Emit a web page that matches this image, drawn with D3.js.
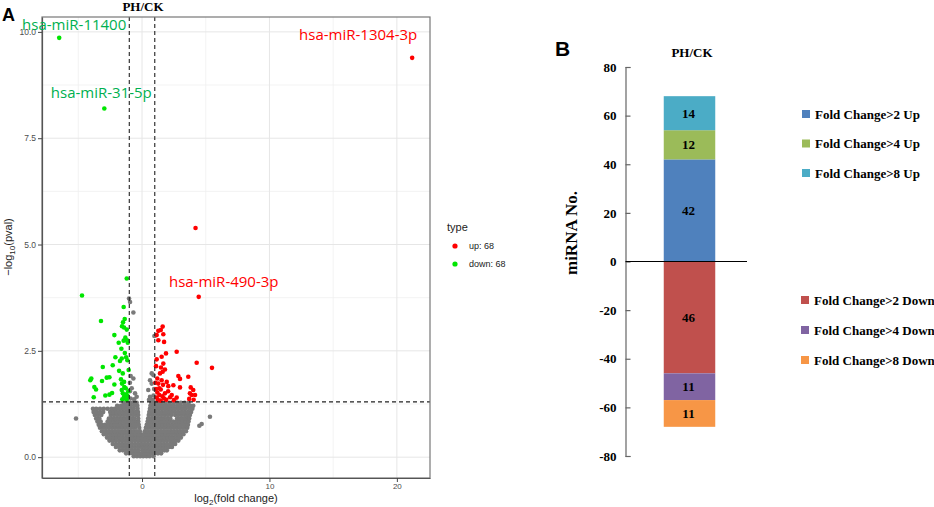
<!DOCTYPE html>
<html><head><meta charset="utf-8">
<script src="https://cdn.jsdelivr.net/npm/d3@7"></script>
<style>body{margin:0;background:#fff}svg{display:block}</style>
</head><body>
<svg id="c" width="934" height="507"></svg>
<script>
// ================= DATA =================
// Panel A: volcano plot  [log2FC, -log10 p]
const volcanoUp = [[4.20,5.39],[1.62,3.07],[1.47,2.99],[1.28,2.97],[1.15,2.87],[1.67,2.89],[1.28,2.75],[1.73,2.71],[2.72,2.48],[1.88,2.44],[1.54,2.36],[4.29,2.22],[5.49,2.10],[1.67,2.20],[1.49,2.11],[1.10,2.14],[1.80,2.06],[1.62,2.01],[1.41,1.97],[1.20,1.85],[1.54,1.81],[1.94,1.77],[1.28,1.73],[2.85,1.91],[2.98,1.84],[3.63,1.89],[2.46,1.69],[2.98,1.64],[2.06,1.67],[1.47,1.59],[1.80,1.50],[2.33,1.46],[3.82,1.64],[4.02,1.58],[3.76,1.50],[3.90,1.46],[4.16,1.46],[2.72,1.40],[2.20,1.41],[1.36,1.46],[1.73,1.38],[1.15,1.40],[1.25,1.34],[1.45,1.33],[1.60,1.43],[1.90,1.35],[2.05,1.55],[1.10,1.60],[1.20,1.52],[3.70,1.37],[4.05,1.35],[2.50,1.34],[1.35,1.62],[1.05,1.75],[1.65,1.70],[1.15,2.30]];
const volcanoDown = [[-1.20,4.20],[-4.71,3.80],[-1.44,3.53],[-3.22,3.20],[-1.36,3.25],[-1.49,3.17],[-1.57,3.08],[-1.41,3.05],[-2.17,2.87],[-1.31,2.81],[-1.18,2.75],[-1.44,2.74],[-1.83,2.69],[-1.12,2.69],[-2.09,2.35],[-1.59,2.32],[-1.25,2.35],[-1.15,2.28],[-1.73,2.26],[-3.08,2.12],[-2.30,2.16],[-1.80,2.03],[-1.51,1.97],[-1.65,1.83],[-1.41,1.77],[-3.98,1.85],[-4.06,1.81],[-3.74,1.65],[-3.61,1.59],[-3.14,1.79],[-2.77,1.87],[-2.56,1.88],[-2.17,1.71],[-2.35,1.51],[-2.88,1.45],[-2.56,1.47],[-1.57,1.73],[-1.39,1.65],[-1.59,1.58],[-1.51,1.50],[-1.25,1.48],[-1.41,1.42],[-1.15,1.44],[-1.33,1.38],[-3.79,1.41],[-1.20,1.35],[-1.55,1.36],[-1.08,1.55],[-1.28,1.62],[-1.05,2.05],[-1.35,2.45],[-1.20,3.00],[-1.62,2.55]];
// non-significant genes, read row by row: [-log10 p, [log2FC ...]]
const grayRows = [
 [0.02,[-0.65,-0.4,-0.15,0.1,0.35,0.6,0.9]],
 [0.09,[-1.25,-1.0,-0.75,-0.5,-0.25,0.0,0.25,0.5,0.75,1.0,1.25,1.5]],
 [0.16,[-1.75,-1.5,-1.25,-1.0,-0.75,-0.5,-0.25,0.05,0.3,0.55,0.8,1.05,1.3,1.55,1.75,1.95]],
 [0.24,[-2.05,-1.8,-1.55,-1.3,-1.05,-0.8,-0.55,-0.3,-0.05,0.2,0.45,0.7,0.95,1.2,1.45,1.7,1.95,2.15,2.35]],
 [0.31,[-2.3,-2.05,-1.8,-1.55,-1.3,-1.05,-0.8,-0.55,-0.3,-0.05,0.2,0.45,0.7,0.95,1.2,1.45,1.7,1.95,2.2,2.4,2.6]],
 [0.39,[-2.55,-2.3,-2.05,-1.8,-1.55,-1.3,-1.05,-0.8,-0.55,-0.3,-0.05,0.2,0.45,0.7,0.95,1.2,1.45,1.7,1.95,2.2,2.45,2.65,2.85]],
 [0.46,[-2.75,-2.5,-2.25,-2.0,-1.75,-1.5,-1.25,-1.0,-0.75,-0.5,-0.25,0.0,0.25,0.5,0.75,1.0,1.25,1.5,1.75,2.0,2.25,2.5,2.75,3.05]],
 [0.54,[-3.0,-2.75,-2.5,-2.25,-2.0,-1.75,-1.5,-1.25,-1.0,-0.75,-0.5,-0.28,-0.12,0.14,0.35,0.6,0.85,1.1,1.35,1.6,1.85,2.1,2.35,2.6,2.85,3.05,3.25]],
 [0.61,[-3.15,-2.9,-2.65,-2.4,-2.15,-1.9,-1.65,-1.4,-1.15,-0.9,-0.65,-0.4,-0.17,0.22,0.45,0.7,0.95,1.2,1.45,1.7,1.95,2.2,2.45,2.7,2.95,3.2,3.45]],
 [0.69,[-3.3,-3.05,-2.8,-2.55,-2.3,-2.05,-1.8,-1.55,-1.3,-1.05,-0.8,-0.55,-0.22,0.3,0.55,0.8,1.05,1.3,1.55,1.8,2.05,2.3,2.55,2.8,3.05,3.3,3.55]],
 [0.76,[-3.4,-3.15,-2.9,-2.65,-2.4,-2.15,-1.9,-1.65,-1.4,-1.15,-0.9,-0.65,-0.42,-0.26,0.37,0.6,0.85,1.1,1.35,1.6,1.85,2.1,2.35,2.6,2.85,3.1,3.35,3.6]],
 [0.84,[-3.5,-3.25,-2.7,-2.45,-2.2,-1.95,-1.7,-1.45,-1.2,-0.95,-0.7,-0.48,-0.29,0.44,0.68,0.93,1.18,1.43,1.68,1.93,2.18,2.43,2.68,2.93,3.18,3.43,3.65]],
 [0.91,[-3.6,-3.35,-2.6,-2.35,-2.1,-1.85,-1.6,-1.35,-1.1,-0.85,-0.6,-0.3,0.48,0.72,0.97,1.22,1.47,1.72,1.97,2.22,2.75,3.0,3.25,3.5,3.7]],
 [0.99,[-3.7,-3.45,-3.2,-2.45,-2.2,-1.95,-1.7,-1.45,-1.2,-0.95,-0.7,-0.45,-0.3,0.53,0.78,1.03,1.28,1.53,1.78,2.03,2.28,2.6,2.85,3.1,3.35,3.55,3.76]],
 [1.06,[-3.8,-3.55,-3.3,-3.05,-2.5,-2.25,-2.0,-1.75,-1.5,-1.25,-1.0,-0.75,-0.5,-0.32,0.57,0.82,1.07,1.32,1.57,1.82,2.07,2.32,2.57,2.82,3.1,3.35,3.6,3.85]],
 [1.14,[-3.85,-3.6,-3.3,-3.0,-2.7,-2.4,-2.15,-1.9,-1.65,-1.4,-1.15,-0.9,-0.65,-0.35,0.62,0.88,1.13,1.38,1.63,1.88,2.13,2.38,2.63,2.9,3.15,3.4,3.7,3.95]],
 [1.21,[-1.95,-1.65,-1.4,-1.15,-0.9,-0.62,-0.37,0.66,0.92,1.18,1.45,1.7,1.95,2.2,2.45,2.75,3.0,3.3,3.55,3.8,4.02]],
 [1.28,[-1.45,-1.18,-0.92,-0.65,-0.42,0.72,1.0,1.28,1.55,1.85,2.15,2.45,2.75,3.05,3.35,3.65]]
];
const grayExtra = [[-5.18,0.91],[5.33,0.95],[4.68,0.78],[4.50,0.74],[-1.02,3.73],[-0.94,3.65],[-0.68,3.40],[0.97,2.85],[0.89,1.93],[0.76,1.97],[0.63,1.81],[0.76,1.73],[0.49,1.58],[-0.89,1.91],[-0.68,1.85],[-0.81,1.62],[-0.55,1.50],[-0.42,1.42],[0.63,1.42],[-0.95,1.55],[-0.90,1.38],[0.90,1.45],[0.85,1.35],[-0.62,1.36],[0.55,1.35],[-0.95,1.75],[0.95,1.60]];
const labeledGenes = [
  {name:"hsa-miR-11400",  fc:-6.50, p:9.86, type:"down"},
  {name:"hsa-miR-31-5p",  fc:-2.96, p:8.20, type:"down"},
  {name:"hsa-miR-1304-3p",fc:21.20, p:9.39, type:"up"},
  {name:"hsa-miR-490-3p", fc:4.45,  p:3.77, type:"up"}
];
const fcCutoffs = [-1, 1];
const pCutoff = 1.3;
const xTicksA = [0, 10, 20];
const yTicksA = [0, 2.5, 5, 7.5, 10];
const legendTypes = ["up: 68", "down: 68"];

// Panel B: stacked bar
const barCategories = ["PH/CK"];
const upLabels = ["Fold Change>2 Up", "Fold Change>4 Up", "Fold Change>8 Up"];
const upCounts = [42, 12, 14];
const downLabels = ["Fold Change>2 Down", "Fold Change>4 Down", "Fold Change>8 Down"];
const downCounts = [46, 11, 11];
const yTicksB = [80, 60, 40, 20, 0, -20, -40, -60, -80];

// ================= STYLE / LAYOUT =================
const colUp = "#ff0000", colDown = "#00e600", colGray = "#7a7a7a";
const labelColor = {up:"#ff0000", down:"#00b050"};
const labelNudge = {"hsa-miR-11400":[15,-8], "hsa-miR-31-5p":[-3,-10], "hsa-miR-1304-3p":[-54,-18], "hsa-miR-490-3p":[25,-10]};
const upColors = ["#4f81bd", "#9bbb59", "#4bacc6"];
const downColors = ["#c0504d", "#8064a2", "#f79646"];
const sans = "'Liberation Sans', Arial, sans-serif";
const serif = "'Liberation Serif', 'Times New Roman', serif";

const svg = d3.select("#c");

// ---------- Panel A ----------
const x = d3.scaleLinear().domain([-7.85, 22.6]).range([42, 430]);
const y = d3.scaleLinear().domain([-0.49, 10.35]).range([478, 17]);
const A = svg.append("g");
A.append("rect").attr("x",42).attr("y",17).attr("width",388).attr("height",461).attr("fill","#fff");
const minorX = [-5, 5, 15], minorY = [1.25, 3.75, 6.25, 8.75];
A.selectAll(".gxm").data(minorX).join("line").attr("x1",d=>x(d)).attr("x2",d=>x(d)).attr("y1",17).attr("y2",478).attr("stroke","#f0f0f0").attr("stroke-width",0.8);
A.selectAll(".gym").data(minorY).join("line").attr("y1",d=>y(d)).attr("y2",d=>y(d)).attr("x1",42).attr("x2",430).attr("stroke","#f0f0f0").attr("stroke-width",0.8);
A.selectAll(".gx").data(xTicksA).join("line").attr("x1",d=>x(d)).attr("x2",d=>x(d)).attr("y1",17).attr("y2",478).attr("stroke","#e6e6e6").attr("stroke-width",1);
A.selectAll(".gy").data(yTicksA).join("line").attr("y1",d=>y(d)).attr("y2",d=>y(d)).attr("x1",42).attr("x2",430).attr("stroke","#e6e6e6").attr("stroke-width",1);

const grayPts = grayRows.flatMap(([pp, xs]) => xs.map(f => [f, pp])).concat(grayExtra);
A.append("g").selectAll("circle").data(grayPts).join("circle")
  .attr("cx",d=>x(d[0])).attr("cy",d=>y(d[1])).attr("r",2.3).attr("fill",colGray);
A.append("g").selectAll("circle").data(volcanoDown.concat(labeledGenes.filter(g=>g.type==="down").map(g=>[g.fc,g.p]))).join("circle")
  .attr("cx",d=>x(d[0])).attr("cy",d=>y(d[1])).attr("r",2.3).attr("fill",colDown);
A.append("g").selectAll("circle").data(volcanoUp.concat(labeledGenes.filter(g=>g.type==="up").map(g=>[g.fc,g.p]))).join("circle")
  .attr("cx",d=>x(d[0])).attr("cy",d=>y(d[1])).attr("r",2.3).attr("fill",colUp);

// cutoff lines
A.selectAll(".vc").data(fcCutoffs).join("line").attr("x1",d=>x(d)).attr("x2",d=>x(d)).attr("y1",17).attr("y2",478)
  .attr("stroke","#222").attr("stroke-width",1.1).attr("stroke-dasharray","4,3");
A.append("line").attr("x1",42).attr("x2",430).attr("y1",y(pCutoff)).attr("y2",y(pCutoff))
  .attr("stroke","#222").attr("stroke-width",1.1).attr("stroke-dasharray","4,3");

// border
A.append("rect").attr("x",42).attr("y",17).attr("width",388).attr("height",461).attr("fill","none").attr("stroke","#777").attr("stroke-width",1.2);

// axes
const ax = A.append("g").attr("transform","translate(0,478)")
  .call(d3.axisBottom(x).tickValues(xTicksA).tickSize(4).tickSizeOuter(0).tickPadding(1));
const ay = A.append("g").attr("transform","translate(42,0)")
  .call(d3.axisLeft(y).tickValues(yTicksA).tickFormat(d3.format(".1f")).tickSize(4).tickSizeOuter(0).tickPadding(2));
[ax, ay].forEach(a => {
  a.select(".domain").attr("stroke","#555").attr("stroke-width",1.2);
  a.selectAll(".tick line").attr("stroke","#444");
  a.selectAll(".tick text").attr("font-family",sans).attr("font-size",8.5).attr("fill","#4d4d4d");
});
ax.selectAll(".tick text").attr("font-size",8);

// labels (drawn above the axis labels, as in the reference)
A.selectAll(".lab").data(labeledGenes).join("text")
  .attr("x",d=>x(d.fc)+labelNudge[d.name][0]).attr("y",d=>y(d.p)+labelNudge[d.name][1])
  .attr("text-anchor","middle").attr("font-family","'Open Sans', sans-serif").attr("font-size",15)
  .attr("fill",d=>labelColor[d.type]).text(d=>d.name);

// axis titles
const xt = A.append("text").attr("x",236).attr("y",502).attr("text-anchor","middle").attr("font-family",sans).attr("font-size",11).attr("fill","#222");
xt.append("tspan").text("log");
xt.append("tspan").attr("font-size",8).attr("dy",3).text("2");
xt.append("tspan").attr("dy",-3).text("(fold change)");
const yt = A.append("text").attr("transform","translate(12,247) rotate(-90)").attr("text-anchor","middle").attr("font-family",sans).attr("font-size",11).attr("fill","#222");
yt.append("tspan").text("\u2212log");
yt.append("tspan").attr("font-size",8).attr("dy",3).text("10");
yt.append("tspan").attr("dy",-3).text("(pval)");

// title & panel letter
svg.append("text").attr("x",143).attr("y",11).attr("text-anchor","middle").attr("font-family",serif).attr("font-weight","bold").attr("font-size",13).text("PH/CK");
svg.append("text").attr("x",2).attr("y",21).attr("font-family",sans).attr("font-weight","bold").attr("font-size",18).text("A");

// legend A
const LA = svg.append("g");
LA.append("text").attr("x",447).attr("y",231).attr("font-family",sans).attr("font-size",11).attr("fill","#222").text("type");
LA.selectAll("circle").data(legendTypes).join("circle").attr("cx",455).attr("cy",(d,i)=>246+i*18).attr("r",2.6)
  .attr("fill",(d,i)=>i===0?colUp:colDown);
LA.selectAll(".lt").data(legendTypes).join("text").attr("x",469).attr("y",(d,i)=>246+i*18).attr("dy","0.35em")
  .attr("font-family",sans).attr("font-size",9).attr("fill","#222").text(d=>d);

// ---------- Panel B ----------
const yB = d3.scaleLinear().domain([-80, 80]).range([456, 67]);
const xB = d3.scaleBand().domain(barCategories).range([638, 741]).paddingInner(0).paddingOuter(0.5);
const B = svg.append("g");
const upTop = d3.cumsum(upCounts), downTop = d3.cumsum(downCounts);
const upSegs = upCounts.map((v,i)=>({v, y0: upTop[i]-v, y1: upTop[i], c: upColors[i]}));
const downSegs = downCounts.map((v,i)=>({v, y0: -(downTop[i]-v), y1: -downTop[i], c: downColors[i]}));
const segs = upSegs.concat(downSegs);
B.selectAll("rect.seg").data(segs).join("rect").attr("class","seg")
  .attr("x",xB(barCategories[0])).attr("width",xB.bandwidth())
  .attr("y",d=>Math.min(yB(d.y0),yB(d.y1))).attr("height",d=>Math.abs(yB(d.y0)-yB(d.y1)))
  .attr("fill",d=>d.c);
B.selectAll("text.sl").data(segs).join("text").attr("class","sl")
  .attr("x",xB(barCategories[0])+xB.bandwidth()/2 - 1).attr("y",d=>yB((d.y0+d.y1)/2)).attr("dy","0.35em")
  .attr("text-anchor","middle").attr("font-family",serif).attr("font-weight","bold").attr("font-size",13).attr("fill","#000").text(d=>d.v);

const ayB = B.append("g").attr("transform","translate(625.5,0)")
  .call(d3.axisLeft(yB).tickValues(yTicksB).tickFormat(d=>String(d)).tickSize(-5).tickSizeOuter(-5).tickPadding(9));
ayB.select(".domain").attr("stroke","#666").attr("stroke-width",1.2);
ayB.selectAll(".tick line").attr("stroke","#666").attr("stroke-width",1.2);
ayB.selectAll(".tick text").attr("font-family",serif).attr("font-weight","bold").attr("font-size",13).attr("fill","#000");
B.append("line").attr("x1",625.5).attr("x2",747).attr("y1",yB(0)).attr("y2",yB(0)).attr("stroke","#000").attr("stroke-width",1);

svg.append("text").attr("x",692).attr("y",57).attr("text-anchor","middle").attr("font-family",serif).attr("font-weight","bold").attr("font-size",13).text(barCategories[0]);
svg.append("text").attr("transform","translate(577,233) rotate(-90)").attr("text-anchor","middle").attr("font-family",serif).attr("font-weight","bold").attr("font-size",17).text("miRNA  No.");
svg.append("text").attr("x",555).attr("y",56).attr("font-family",sans).attr("font-weight","bold").attr("font-size",21).text("B");

// legend B
const legB = upLabels.map((t,i)=>({t, c: upColors[i], yy: 114 + i*29.5, sx: 802}))
  .concat(downLabels.map((t,i)=>({t, c: downColors[i], yy: 300 + i*30, sx: 801})));
B.selectAll("rect.lg").data(legB).join("rect").attr("class","lg").attr("x",d=>d.sx).attr("y",d=>d.yy-4).attr("width",8).attr("height",8).attr("fill",d=>d.c);
B.selectAll("text.lg").data(legB).join("text").attr("class","lg").attr("x",d=>d.sx+13).attr("y",d=>d.yy).attr("dy","0.35em")
  .attr("font-family",serif).attr("font-weight","bold").attr("font-size",13).attr("fill","#000").text(d=>d.t);
</script>
</body></html>
